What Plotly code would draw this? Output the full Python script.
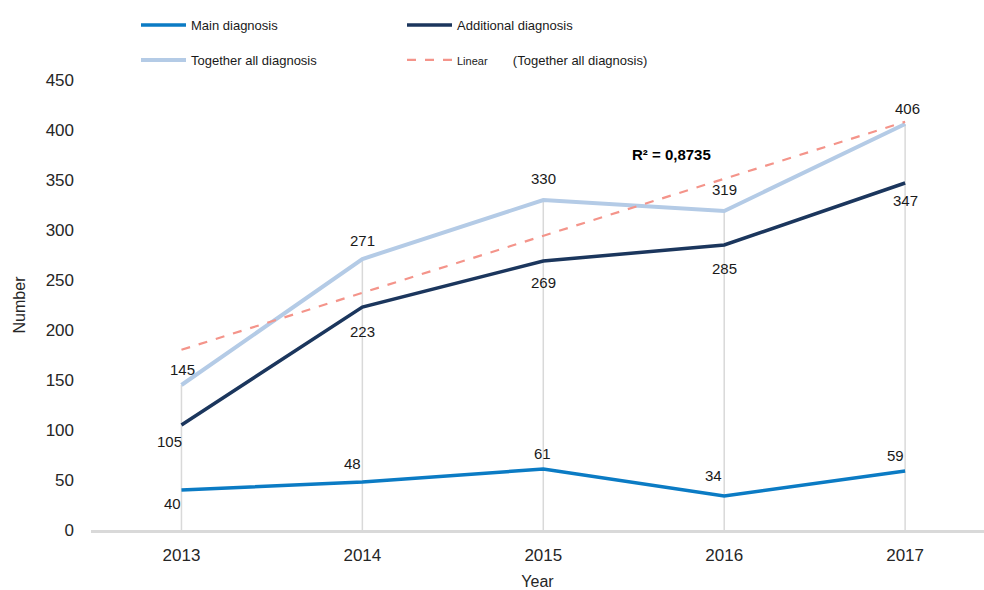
import numpy as np
import plotly.graph_objects as go

years = ["2013", "2014", "2015", "2016", "2017"]
main_diag = [40, 48, 61, 34, 59]
additional_diag = [105, 223, 269, 285, 347]
together_diag = [145, 271, 330, 319, 406]
y_ticks = [0, 50, 100, 150, 200, 250, 300, 350, 400, 450]

# Linear trend (least squares) of "Together all diagnosis"
idx = np.arange(len(years))
slope, intercept = np.polyfit(idx, together_diag, 1)
trend = [intercept + slope * i for i in idx]
pred = np.array(trend)
yv = np.array(together_diag)
r2 = 1 - ((yv - pred) ** 2).sum() / ((yv - yv.mean()) ** 2).sum()
r2_text = "R² = " + f"{r2:.4f}".replace(".", ",")

C_MAIN = "#0B7BC4"
C_ADD = "#1B365D"
C_TOG = "#B4CBE6"
C_LIN = "#F4948A"
GRID = "#D9D9D9"

FONT = "Liberation Sans, Arial, sans-serif"

fig = go.Figure()

# drop lines from the highest value down to the axis
drop_x, drop_y = [], []
for c, a, b, t in zip(years, main_diag, additional_diag, together_diag):
    drop_x += [c, c, None]
    drop_y += [0, max(a, b, t), None]
fig.add_trace(go.Scatter(x=drop_x, y=drop_y, mode="lines",
                         line=dict(color=GRID, width=1.5),
                         showlegend=False, hoverinfo="skip"))

fig.add_trace(go.Scatter(x=years, y=main_diag, mode="lines", name="Main diagnosis",
                         line=dict(color=C_MAIN, width=3.5), legend="legend"))
fig.add_trace(go.Scatter(x=years, y=additional_diag, mode="lines", name="Additional diagnosis",
                         line=dict(color=C_ADD, width=3.5), legend="legend"))
fig.add_trace(go.Scatter(x=years, y=together_diag, mode="lines", name="Together all diagnosis",
                         line=dict(color=C_TOG, width=4), legend="legend2"))
fig.add_trace(go.Scatter(x=years, y=trend, mode="lines",
                         name="<span style='font-size:11px'>Linear</span>" + "&nbsp;" * 7 + "(Together all diagnosis)",
                         line=dict(color=C_LIN, width=2.2, dash="dash"), legend="legend2"))

# data labels (offsets in px)
main_off = [(-9, -13), (-10, 19), (-1, 16), (-11, 21), (-10, 16)]
add_off = [(-12, -16), (0, -24), (0, -21), (0, -23), (0, -17)]
tog_off = [(1, 16), (0, 19), (0, 22), (0, 22), (2, 16)]
for series, offs in ((main_diag, main_off), (additional_diag, add_off), (together_diag, tog_off)):
    for i, (v, (dx, dy)) in enumerate(zip(series, offs)):
        fig.add_annotation(x=i, y=v, xref="x", yref="y", text=str(v), showarrow=False,
                           xshift=dx, yshift=dy,
                           font=dict(family=FONT, size=15, color="#1a1a1a"))

fig.add_annotation(x=2.71, y=376, xref="x", yref="y", text="<b>" + r2_text + "</b>",
                   showarrow=False, font=dict(family=FONT, size=15, color="#000000"))

legend_common = dict(orientation="h", x=(136 - 91) / 893, xanchor="left",
                     yanchor="middle", entrywidth=206, entrywidthmode="pixels",
                     itemwidth=45, font=dict(family=FONT, size=13, color="#1a1a1a"),
                     bgcolor="rgba(0,0,0,0)", tracegroupgap=0)

fig.update_layout(
    width=984, height=590, autosize=False,
    margin=dict(l=91, r=0, t=80, b=60, autoexpand=False),
    paper_bgcolor="white", plot_bgcolor="white",
    font=dict(family=FONT, color="#262626"),
    legend=dict(legend_common, y=(530 - 25) / 450),
    legend2=dict(legend_common, y=(530 - 60) / 450),
    xaxis=dict(type="category", range=[-0.5, 4.436], showgrid=False, automargin=False,
               showline=True, linecolor=GRID, linewidth=2.5, zeroline=False,
               ticks="", ticklabelstandoff=8,
               tickfont=dict(family=FONT, size=17, color="#262626"),
               title=dict(text="Year", standoff=12,
                          font=dict(family=FONT, size=16, color="#262626"))),
    yaxis=dict(range=[0, 450], tickvals=y_ticks, showgrid=False, zeroline=False,
               automargin=False, showline=False, ticks="", ticklabelstandoff=16,
               tickfont=dict(family=FONT, size=17, color="#262626"),
               title=dict(text="Number", standoff=16,
                          font=dict(family=FONT, size=16, color="#262626"))),
)

fig.write_html("out.html", config={"displayModeBar": False},
               post_script="document.body.style.margin='0';document.body.style.overflow='hidden';")
